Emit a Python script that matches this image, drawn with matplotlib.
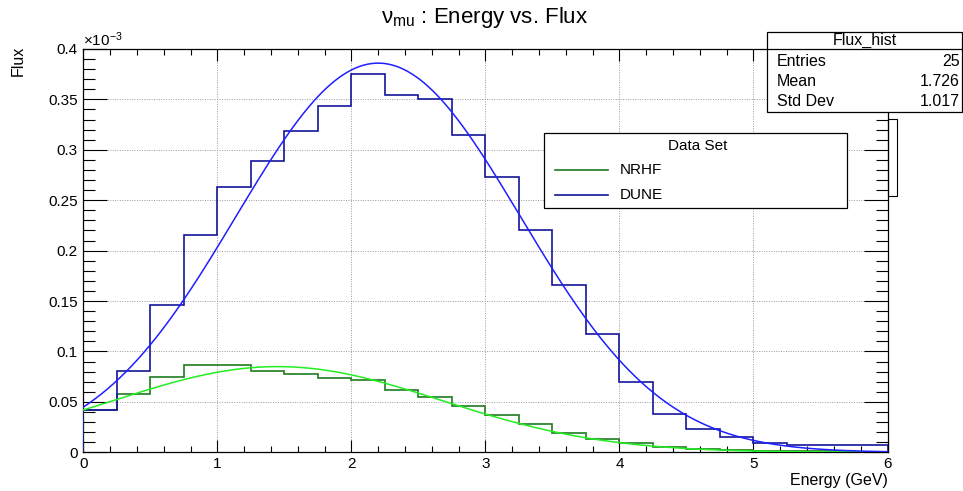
import numpy as np
import matplotlib
matplotlib.use("Agg")
import matplotlib.pyplot as plt
from matplotlib.patches import Rectangle
from matplotlib.ticker import MultipleLocator, FormatStrFormatter
from matplotlib.lines import Line2D

plt.rcParams['font.family'] = ['Liberation Sans', 'DejaVu Sans']
plt.rcParams['mathtext.fontset'] = 'custom'
plt.rcParams['mathtext.rm'] = 'Liberation Sans'
plt.rcParams['mathtext.it'] = 'Liberation Sans'

# ---- data (flux in units of 1e-3) ----
bin_edges = np.arange(0, 6.0001, 0.25)
dune_flux = [0.042, 0.081, 0.146, 0.2156, 0.263, 0.289, 0.319, 0.3436,
             0.375, 0.354, 0.350, 0.315, 0.2735, 0.2205, 0.1657, 0.1174,
             0.070, 0.038, 0.0234, 0.0155, 0.0095, 0.0072, 0.0070, 0.0068]
nrhf_flux = [0.042, 0.0579, 0.075, 0.087, 0.087, 0.081, 0.0774, 0.0734,
             0.072, 0.0618, 0.0552, 0.0463, 0.037, 0.028, 0.0195, 0.0135,
             0.0089, 0.0056, 0.0036, 0.0023, 0.0012, 0.0010, 0.0008, 0.0007]
# gaussian fit parameters (amplitude, mean, sigma)
dune_fit = (0.386, 2.2, 1.06)
nrhf_fit = (0.085, 1.45, 1.22)
series_names = ["NRHF", "DUNE"]
stats_title = "Flux_hist"
stats_rows = [("Entries", "25"), ("Mean", "1.726"), ("Std Dev", "1.017")]

W, H = 963, 491
fig = plt.figure(figsize=(W / 100, H / 100), dpi=100)
L, R, B, T = 83.3, 887.5, 452.3, 49.0
ax = fig.add_axes([L / W, 1 - B / H, (R - L) / W, (B - T) / H])

c_nrhf_h = '#1f7a1f'
c_dune_h = '#14149a'
c_nrhf_f = '#22ee22'
c_dune_f = '#1f1fff'

ax.stairs(nrhf_flux, bin_edges, color=c_nrhf_h, lw=1.2, zorder=3)
ax.stairs(dune_flux, bin_edges, color=c_dune_h, lw=1.2, zorder=3)

xf = np.linspace(0.0, 6.0, 400)
for (a, m, s), c in [(nrhf_fit, c_nrhf_f), (dune_fit, c_dune_f)]:
    ax.plot(xf, a * np.exp(-0.5 * ((xf - m) / s) ** 2), color=c, lw=1.1, zorder=4)

ax.set_xlim(0, 6)
ax.set_ylim(0, 0.4)
ax.xaxis.set_major_locator(MultipleLocator(1))
ax.xaxis.set_minor_locator(MultipleLocator(0.2))
ax.yaxis.set_major_locator(MultipleLocator(0.05))
ax.yaxis.set_minor_locator(MultipleLocator(0.01))
ax.yaxis.set_major_formatter(FormatStrFormatter('%g'))
ax.tick_params(which='both', direction='in', top=True, right=True, labelsize=11,
               width=0.8, colors='black')
ax.tick_params(axis='y', which='major', length=17)
ax.tick_params(axis='y', which='minor', length=8.6)
ax.tick_params(axis='x', which='major', length=8.6)
ax.tick_params(axis='x', which='minor', length=4.3)
ax.tick_params(axis='x', pad=3.5)
ax.tick_params(axis='y', pad=4)
ax.grid(True, which='major', color='#999999', linestyle=(0, (1, 1.5)), lw=0.7)
for sp in ax.spines.values():
    sp.set_linewidth(0.9)

fig.text(L / W, 1 - 46 / H, r'$\times$10$^{-3}$', fontsize=11, ha='left', va='baseline')
fig.text(R / W, 1 - 485 / H, 'Energy (GeV)', fontsize=11.5, ha='right', va='baseline')
fig.text(18 / W, 1 - 46 / H, 'Flux', fontsize=11.5, rotation=90, ha='center', va='top')
fig.text(485 / W, 1 - 23 / H, r'$\mathrm{ν_{mu}}$ : Energy vs. Flux', fontsize=16,
         ha='center', va='baseline')

def frect(x0, y0, x1, y1, **kw):
    fig.patches.append(Rectangle((x0 / W, 1 - y1 / H), (x1 - x0) / W, (y1 - y0) / H,
                                 transform=fig.transFigure, figure=fig, **kw))

# stats box
frect(888, 119, 897, 196, fill=False, ec='black', lw=0.8, zorder=5)
frect(767.3, 31.7, 962, 111.7, fc='white', ec='black', lw=0.9, zorder=5)
fig.add_artist(Line2D([767.3 / W, 962 / W], [1 - 49.3 / H, 1 - 49.3 / H], color='black',
                      lw=0.9, transform=fig.transFigure, zorder=6))
fig.text(865 / W, 1 - 40.5 / H, stats_title, fontsize=11.5, ha='center', va='center', zorder=7)
for i, (k, v) in enumerate(stats_rows):
    y = 62 + i * 20
    fig.text(777 / W, 1 - y / H, k, fontsize=11.5, ha='left', va='center', zorder=7)
    fig.text(960 / W, 1 - y / H, v, fontsize=11.5, ha='right', va='center', zorder=7)

# legend
frect(544, 133.3, 847, 207.7, fc='white', ec='black', lw=0.9, zorder=5)
fig.text(698 / W, 1 - 146 / H, 'Data Set', fontsize=11, ha='center', va='center', zorder=7)
for name, c, y in [(series_names[0], c_nrhf_h, 170), (series_names[1], c_dune_h, 195)]:
    fig.add_artist(Line2D([555 / W, 608 / W], [1 - y / H, 1 - y / H], color=c, lw=1.2,
                          transform=fig.transFigure, zorder=6))
    fig.text(620 / W, 1 - y / H, name, fontsize=11, ha='left', va='center', zorder=7)

fig.savefig('out.png', dpi=100)
